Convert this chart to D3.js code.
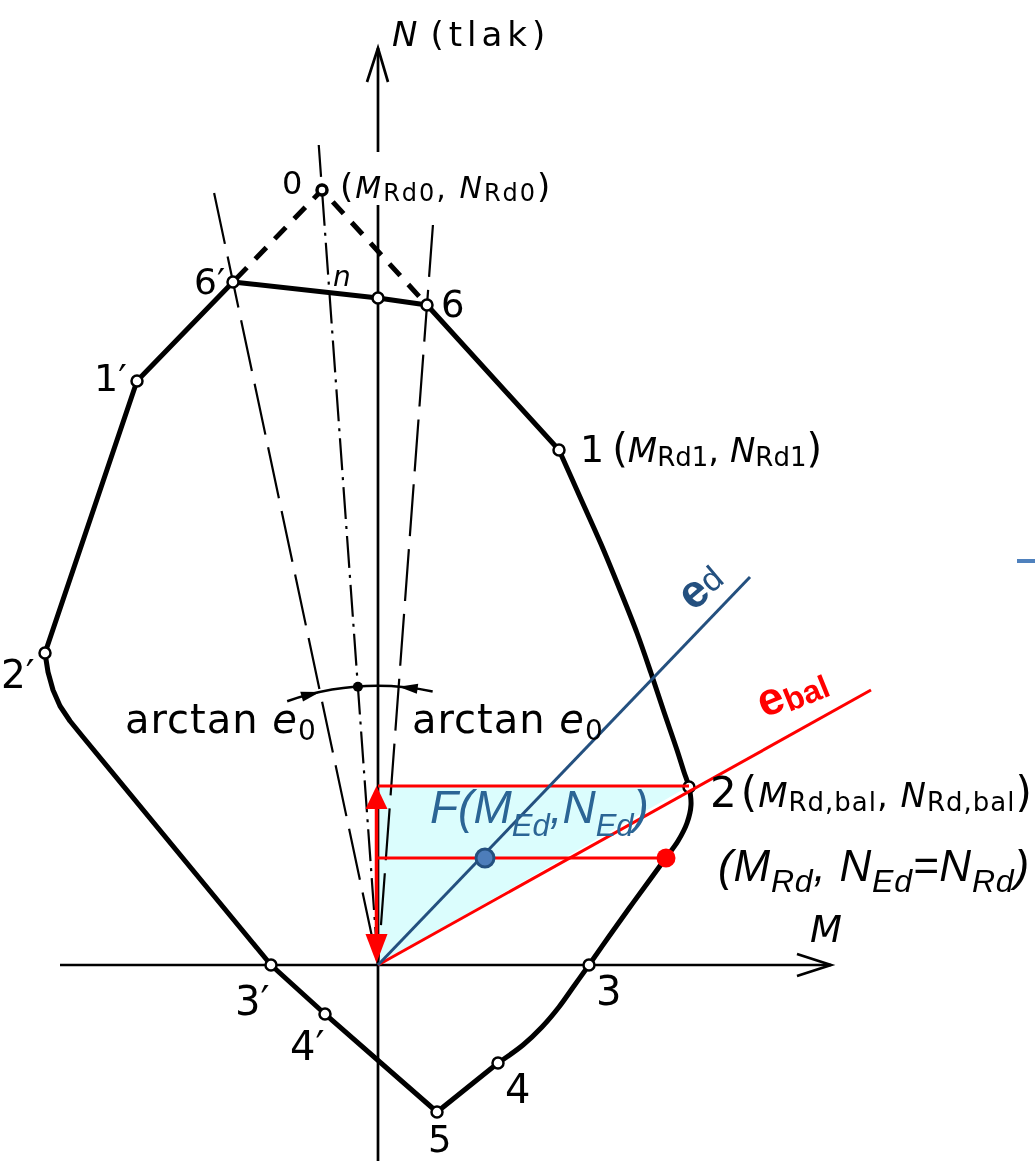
<!DOCTYPE html>
<html><head><meta charset="utf-8">
<script src="https://cdn.jsdelivr.net/npm/d3@7"></script>
<style>html,body{margin:0;padding:0;background:#fff;} svg{display:block;}</style>
</head><body>
<svg id="chart" width="1035" height="1163"></svg>
<script>
// M–N interaction diagram of a section (units: 1 unit = 10 px on screen)

// key points of the interaction curve
const keyNames = ["0", "6", "n", "6", "1", "1", "2", "2", "3", "3", "4", "4", "5"];
const keyM = [-5.6, -14.5, 0.0, 4.9, -24.1, 18.1, -33.3, 31.1, -10.7, 21.1, -5.3, 12.0, 5.9];
const keyN = [77.5, 68.3, 66.7, 66.0, 58.4, 51.5, 31.2, 17.8, 0.0, 0.0, -4.9, -9.8, -14.7];

// boundary: straight top part 2' – 1' – 6' – n – 6 – 1
const topEdgeM = [-33.3, -24.1, -14.5, 0.0, 4.9, 18.1];
const topEdgeN = [31.2, 58.4, 68.3, 66.7, 66.0, 51.5];
// boundary: curved right part 1 – 2 – 3 – 4
const rightEdgeM = [18.1, 20.2, 22.3, 24.2, 25.9, 27.3, 28.6, 29.9, 30.6, 31.1, 31.3, 30.9, 30.0, 28.7, 27.1, 25.2, 23.2, 21.1, 19.6, 18.1, 16.4, 14.5, 12.0];
const rightEdgeN = [51.5, 46.8, 42.1, 37.5, 33.2, 29.2, 25.3, 21.5, 19.3, 17.8, 16.0, 14.2, 12.4, 10.6, 8.4, 5.8, 3.0, 0.0, -2.1, -4.2, -6.2, -8.0, -9.8];
// boundary: bottom part 4 – 5 – 4'
const bottomEdgeM = [12.0, 5.9, -5.3];
const bottomEdgeN = [-9.8, -14.7, -4.9];
// boundary: left part 4' – 3' – 2'
const leftEdgeM = [-5.3, -10.7, -29.5, -30.8, -31.8, -32.5, -33.0, -33.3];
const leftEdgeN = [-4.9, 0.0, 22.8, 24.4, 25.9, 27.5, 29.3, 31.2];

// design action and resistances
const actionM = [10.7];      // M_Ed
const actionN = [10.7];      // N_Ed
const resistM = [28.8];      // M_Rd at N_Ed
const balancedN = [17.9];    // N_Rd,bal
// eccentricity rays (end points)
const rayEdM = [37.2], rayEdN = [38.8];
const rayBalM = [49.3], rayBalN = [27.5];
// reach of the construction lines through 6', 0 and 6
const rayTopN = [77.2, 82.0, 74.0];
const arcRadius = 27.9;
const arcSpanDeg = [-19.0, 11.3];

const x = d3.scaleLinear().domain([-37.8, 65.7]).range([0, 1035]);
const y = d3.scaleLinear().domain([96.5, -19.8]).range([0, 1163]);
const zip = (ms, ns) => ms.map((m, i) => [m, ns[i]]);
const line = d3.line().x(d => x(d[0])).y(d => y(d[1]));
const smooth = d3.line().x(d => x(d[0])).y(d => y(d[1])).curve(d3.curveCatmullRom.alpha(0.5));

const svg = d3.select("#chart");
const BLACK = "#000", RED = "#ff0000", NAVY = "#24507f", STEEL = "#2b6595";

const pt = i => [keyM[i], keyN[i]];
const P0 = pt(0), P6L = pt(1), P6 = pt(3);

// ---- thin construction rays from the origin ----
const ray = (p, nTop) => [[0, 0], [p[0] / p[1] * nTop, nTop]];
const g0 = svg.append("g").attr("fill", "none").attr("stroke", BLACK).attr("stroke-width", 2.2);
g0.append("path").attr("d", line(ray(P6L, rayTopN[0]).reverse())).attr("stroke-dasharray", "52,13");
g0.append("path").attr("d", line(ray(P0, rayTopN[1]).reverse())).attr("stroke-dasharray", "32,7,3,7");
g0.append("path").attr("d", line(ray(P6, rayTopN[2]).reverse())).attr("stroke-dasharray", "52,13");

// ---- arc "arctan e0" ----
const cx = x(0), cy = y(0), rr = x(arcRadius) - x(0);
const rad = d => d * Math.PI / 180;
const onArc = (th, r) => [cx + r * Math.sin(th), cy - r * Math.cos(th)];
const arcPath = d3.path();
arcPath.arc(cx, cy, rr, -Math.PI / 2 + rad(arcSpanDeg[0]), -Math.PI / 2 + rad(arcSpanDeg[1]));
g0.append("path").attr("d", arcPath.toString()).attr("stroke-width", 2.5);
const thL = Math.atan2(P6L[0], P6L[1]), th0 = Math.atan2(P0[0], P0[1]), thR = Math.atan2(P6[0], P6[1]);
const dA = 19 / rr;
function arcHead(tip, base) {
  const a = onArc(tip, rr), b = onArc(base, rr - 5), c = onArc(base, rr + 5);
  svg.append("path").attr("d", `M${a}L${b}L${c}Z`).attr("fill", BLACK);
}
arcHead(thL, thL - dA);
arcHead(thR, thR + dA);
const dot = onArc(th0, rr);
svg.append("circle").attr("cx", dot[0]).attr("cy", dot[1]).attr("r", 5).attr("fill", BLACK);

// ---- axes ----
const ax = svg.append("g").attr("stroke", BLACK).attr("stroke-width", 2.7).attr("fill", "none");
ax.append("path").attr("d", line([[0, -19.6], [0, 76.0]]));
ax.append("path").attr("d", line([[0, 81.3], [0, 91.7]]));
ax.append("path").attr("d", `M${x(0) - 11},${y(91.7) + 34}L${x(0)},${y(91.7)}L${x(0) + 10},${y(91.7) + 34}`);
ax.append("path").attr("d", line([[-31.8, 0], [45.3, 0]]));
ax.append("path").attr("d", `M${x(45.3) - 34},${y(0) - 11}L${x(45.3)},${y(0)}L${x(45.3) - 34},${y(0) + 11}`);

// ---- interaction curve ----
const bd = svg.append("g").attr("fill", "none").attr("stroke", BLACK).attr("stroke-width", 5)
  .attr("stroke-linejoin", "round").attr("stroke-linecap", "round");
bd.append("path").attr("d", line(zip(topEdgeM, topEdgeN)));
bd.append("path").attr("d", smooth(zip(rightEdgeM, rightEdgeN)));
bd.append("path").attr("d", line(zip(bottomEdgeM, bottomEdgeN)));
bd.append("path").attr("d", line(zip(leftEdgeM, leftEdgeN)));
// pure compression point 0, linked to 6' and 6
bd.append("path").attr("d", line([P6L, P0, P6])).attr("stroke-dasharray", "16,12")
  .attr("stroke-dashoffset", -4).attr("stroke-linecap", "butt");

// point markers
svg.append("g").selectAll("circle").data(keyNames.map((n, i) => i))
  .join("circle")
  .attr("cx", i => x(keyM[i])).attr("cy", i => y(keyN[i]))
  .attr("r", i => i === 0 ? 5 : 5.5)
  .attr("fill", "#fff").attr("stroke", BLACK).attr("stroke-width", i => i === 0 ? 3.5 : 2.5);

// ---- design check overlay ----
const nBal = balancedN[0];
svg.append("path")
  .attr("d", line([[0, 0], [0, nBal], [keyM[7], nBal]]) + "Z")
  .attr("fill", "#dbfdfd").style("mix-blend-mode", "multiply");

const ov = svg.append("g").attr("fill", "none").attr("stroke-width", 3);
ov.append("path").attr("d", line([[0, 0], [rayBalM[0], rayBalN[0]]])).attr("stroke", RED);
ov.append("path").attr("d", line([[0, nBal], [keyM[7], nBal]])).attr("stroke", RED);
ov.append("path").attr("d", line([[0, actionN[0]], [resistM[0], actionN[0]]])).attr("stroke", RED);
ov.append("path").attr("d", line([[0, 0], [rayEdM[0], rayEdN[0]]])).attr("stroke", NAVY);

// vertical double arrow 0 … N_Rd,bal
const ax0 = x(-0.15);
svg.append("path").attr("d", `M${ax0},${y(nBal) + 15}L${ax0},${y(0) - 15}`).attr("stroke", RED).attr("stroke-width", 3.5);
svg.append("path").attr("d", `M${ax0},${y(nBal)}L${ax0 - 11},${y(nBal) + 23}L${ax0 + 11},${y(nBal) + 23}Z`).attr("fill", RED);
svg.append("path").attr("d", `M${ax0},${y(0.2)}L${ax0 - 11},${y(0.2) - 29}L${ax0 + 11},${y(0.2) - 29}Z`).attr("fill", RED);

svg.append("circle").attr("cx", x(resistM[0])).attr("cy", y(actionN[0])).attr("r", 9.5).attr("fill", RED);
svg.append("circle").attr("cx", x(actionM[0])).attr("cy", y(actionN[0])).attr("r", 9)
  .attr("fill", "#4d7dba").attr("stroke", NAVY).attr("stroke-width", 3);

// short leader tick at the right margin
svg.append("path").attr("d", "M1017,561L1035,561").attr("stroke", "#4f81bd").attr("stroke-width", 4);

// ---- labels ----
function label(xp, yp, parts, opt = {}) {
  const t = svg.append("text").attr("x", xp).attr("y", yp)
    .attr("font-family", opt.family || "DejaVu Sans").attr("fill", opt.fill || BLACK);
  if (opt.transform) t.attr("transform", opt.transform);
  if (opt.ls) t.attr("letter-spacing", opt.ls);
  let shift = 0;
  parts.forEach(p => {
    const ts = t.append("tspan").text(p.t).attr("font-size", p.s);
    if (p.i) ts.attr("font-style", "italic");
    if (p.b) ts.attr("font-weight", "bold");
    const dy = (p.sh || 0) - shift;
    if (dy) ts.attr("dy", dy);
    shift = p.sh || 0;
    if (p.dx) ts.attr("dx", p.dx);
  });
  return t;
}
const AR = "Liberation Sans, Arial, sans-serif";

label(392, 46, [{t: "N", s: 34, i: true}, {t: "(tlak)", s: 34, dx: 8}], {ls: 5});
label(282, 194, [{t: "0", s: 32}]);
label(340, 198, [{t: "(", s: 34}, {t: "M", s: 30, i: true}, {t: "Rd0", s: 24, sh: 3}, {t: ", ", s: 30},
  {t: "N", s: 30, i: true}, {t: "Rd0", s: 24, sh: 3}, {t: ")", s: 34}], {ls: 2});
label(194, 294, [{t: "6′", s: 36}]);
label(333, 286, [{t: "n", s: 28, i: true}]);
label(441, 317, [{t: "6", s: 37}]);
label(94, 391, [{t: "1′", s: 38}]);
label(580, 462, [{t: "1", s: 38}, {t: "(", s: 40, dx: 8}, {t: "M", s: 34, i: true}, {t: "Rd1", s: 26, sh: 4},
  {t: ", ", s: 34}, {t: "N", s: 34, i: true}, {t: "Rd1", s: 26, sh: 4}, {t: ")", s: 40}]);
label(1, 688, [{t: "2′", s: 39}]);
label(710, 807, [{t: "2", s: 42}, {t: "(", s: 42, dx: 3}, {t: "M", s: 34, i: true}, {t: "Rd,bal", s: 26, sh: 4},
  {t: ", ", s: 34}, {t: "N", s: 34, i: true}, {t: "Rd,bal", s: 26, sh: 4}, {t: ")", s: 42}], {ls: 1});
label(235, 1015, [{t: "3′", s: 40}]);
label(290, 1060, [{t: "4′", s: 40}]);
label(428, 1152, [{t: "5", s: 37}]);
label(505, 1103, [{t: "4", s: 40}]);
label(596, 1005, [{t: "3", s: 40}]);
label(810, 942, [{t: "M", s: 37, i: true}]);
label(125, 733, [{t: "arctan ", s: 40}, {t: "e", s: 40, i: true}, {t: "0", s: 28, sh: 7}], {ls: 1});
label(412, 733, [{t: "arctan ", s: 40}, {t: "e", s: 40, i: true}, {t: "0", s: 28, sh: 7}], {ls: 1});

label(430, 823, [{t: "F(M", s: 46, i: true}, {t: "Ed", s: 31, i: true, sh: 13}, {t: ",N", s: 46, i: true},
  {t: "Ed", s: 31, i: true, sh: 13}, {t: ")", s: 46, i: true}], {family: AR, fill: STEEL});
label(718, 881, [{t: "(M", s: 44, i: true}, {t: "Rd", s: 32, i: true, sh: 11}, {t: ", N", s: 44, i: true},
  {t: "Ed", s: 32, i: true, sh: 11}, {t: "=N", s: 44, i: true}, {t: "Rd", s: 32, i: true, sh: 11},
  {t: ")", s: 44, i: true}], {family: AR, ls: 0.8});

label(0, 0, [{t: "e", s: 46, b: true}, {t: "d", s: 34, sh: -2}], {family: AR, fill: NAVY, transform: "translate(693,612) rotate(-40)"});
label(0, 0, [{t: "e", s: 46, b: true}, {t: "bal", s: 32, b: true, sh: 4}], {family: AR, fill: RED, transform: "translate(764,718) rotate(-22)"});
</script>
</body></html>
